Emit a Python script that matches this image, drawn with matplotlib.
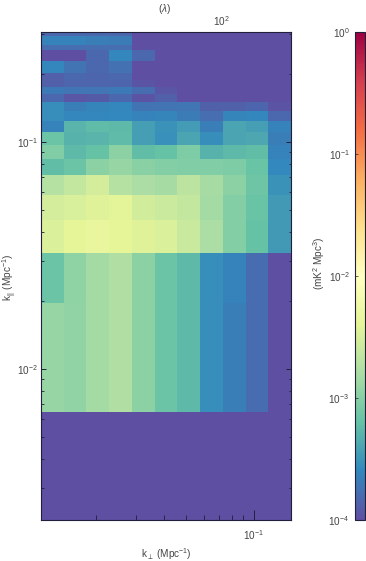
import numpy as np
import matplotlib
matplotlib.use("Agg")
import matplotlib.pyplot as plt
from matplotlib.colors import LogNorm
from matplotlib.ticker import FixedLocator, FixedFormatter, NullFormatter

plt.rcParams['font.family'] = ['Liberation Sans', 'DejaVu Sans']
plt.rcParams['mathtext.fontset'] = 'custom'
plt.rcParams['mathtext.rm'] = 'Liberation Sans'
plt.rcParams['mathtext.it'] = 'Liberation Sans:italic'
plt.rcParams['mathtext.bf'] = 'Liberation Sans:bold'
plt.rcParams['mathtext.sf'] = 'Liberation Sans'

# ---- data -------------------------------------------------------------
kperp_edges = [0.011429, 0.014407, 0.018163, 0.022896, 0.028864, 0.036388,
               0.045875, 0.057835, 0.072912, 0.091922, 0.11588, 0.14609]
kpar_edges = [0.0065, 0.0195, 0.0325, 0.0455, 0.0585, 0.0715, 0.0845, 0.0975,
              0.1105, 0.1235, 0.1365, 0.1495, 0.1625, 0.1755, 0.1885, 0.2015,
              0.2145, 0.2275, 0.2405, 0.2535, 0.2665, 0.2795, 0.2925, 0.3055]

L = 8e-5  # below colour range
power = [
    [1.2e-3, 1.15e-3, 1.45e-3, 1.74e-3, 1.05e-3, 6.9e-4, 5.5e-4, 2.75e-4, 2.2e-4, 1.6e-4, L],
    [6.9e-4, 1.1e-3, 1.45e-3, 1.74e-3, 1.05e-3, 6.9e-4, 5.5e-4, 2.8e-4, 2.3e-4, 1.6e-4, L],
    [3.3e-3, 4.0e-3, 4.4e-3, 4.0e-3, 3.6e-3, 3.3e-3, 2.5e-3, 1.6e-3, 9.5e-4, 6.3e-4, 3.3e-4],
    [3.0e-3, 3.2e-3, 3.6e-3, 3.8e-3, 2.9e-3, 2.6e-3, 2.3e-3, 1.45e-3, 9.5e-4, 6.6e-4, 3.3e-4],
    [1.9e-3, 2.3e-3, 3.0e-3, 1.9e-3, 1.6e-3, 1.5e-3, 2.1e-3, 1.5e-3, 1.05e-3, 7.2e-4, 3.0e-4],
    [6.0e-4, 6.9e-4, 1.05e-3, 1.2e-3, 1.0e-3, 9.5e-4, 9.1e-4, 9.1e-4, 8.7e-4, 6.6e-4, 2.6e-4],
    [9.1e-4, 5.5e-4, 6.3e-4, 1.05e-3, 6.0e-4, 6.3e-4, 8.7e-4, 5.0e-4, 5.5e-4, 6.0e-4, 2.3e-4],
    [6.9e-4, 5.0e-4, 5.2e-4, 5.8e-4, 3.6e-4, 2.9e-4, 4.0e-4, 2.75e-4, 4.0e-4, 4.2e-4, 2.2e-4],
    [2.3e-4, 5.2e-4, 5.8e-4, 5.5e-4, 3.6e-4, 3.0e-4, 3.5e-4, 2.2e-4, 4.0e-4, 3.6e-4, 2.3e-4],
    [2.75e-4, 2.5e-4, 2.5e-4, 2.6e-4, 2.3e-4, 2.4e-4, 2.1e-4, 1.66e-4, 2.4e-4, 2.5e-4, 1.5e-4],
    [2.75e-4, 2.2e-4, 2.4e-4, 2.5e-4, 1.8e-4, 1.8e-4, 1.9e-4, 1.38e-4, 1.38e-4, 1.45e-4, 1.1e-4],
    [1.5e-4, 1.15e-4, 1.2e-4, 1.5e-4, 1.1e-4, 1.3e-4, L, L, L, L, L],
    [2.0e-4, 1.9e-4, 1.9e-4, 2.0e-4, 1.6e-4, 1.15e-4, L, L, L, L, L],
    [1.3e-4, 1.45e-4, 1.45e-4, 1.45e-4, 1.1e-4, L, L, L, L, L, L],
    [1.3e-4, 1.5e-4, 1.45e-4, 1.5e-4, L, L, L, L, L, L, L],
    [2.5e-4, 1.8e-4, 1.5e-4, 1.74e-4, L, L, L, L, L, L, L],
    [2.5e-4, 1.8e-4, 1.5e-4, 1.74e-4, L, L, L, L, L, L, L],
    [L, L, 1.5e-4, 2.5e-4, 1.5e-4, L, L, L, L, L, L],
    [L, L, 1.5e-4, 2.5e-4, 1.5e-4, L, L, L, L, L, L],
    [1.66e-4, 1.66e-4, 1.66e-4, 1.66e-4, L, L, L, L, L, L, L],
    [2.3e-4, 2.3e-4, 2.2e-4, 2.1e-4, L, L, L, L, L, L, L],
    [2.3e-4, 2.3e-4, 2.2e-4, 2.1e-4, L, L, L, L, L, L, L],
    [1.5e-4, 1.5e-4, 1.5e-4, 1.5e-4, L, L, L, L, L, L, L],
]

cbar_ticks = [1e-4, 1e-3, 1e-2, 1e-1, 1e0]
lam_per_k = 1385.0
lam_major = [100]
lam_minor = [20, 30, 40, 50, 60, 70, 80, 90]

# ---- figure -----------------------------------------------------------
W, H = 366, 561
fig = plt.figure(figsize=(W / 100, H / 100), dpi=100)
txt = '#444444'
fs = 7.2
cmap = plt.get_cmap('Spectral_r')
norm = LogNorm(vmin=1e-4, vmax=1e0)

ax = fig.add_axes([41 / W, 1 - 520 / H, 250 / W, 488 / H])
ax.set_facecolor(cmap(0.0))
mesh = ax.pcolormesh(kperp_edges, kpar_edges, np.array(power), cmap=cmap,
                     norm=norm, shading='flat', edgecolors='face', linewidth=0.0)
ax.set_xscale('log')
ax.set_yscale('log')
ax.set_xlim(kperp_edges[0], kperp_edges[-1])
ax.set_ylim(0.002163, kpar_edges[-1])

for s in ax.spines.values():
    s.set_color('#20203a')
    s.set_linewidth(0.8)

ax.xaxis.set_minor_formatter(NullFormatter())
ax.yaxis.set_minor_formatter(NullFormatter())
ax.tick_params(axis='x', which='both', direction='in', top=False, bottom=True,
               colors='#20203a', labelcolor=txt, labelsize=fs)
ax.tick_params(axis='x', which='major', length=7, width=0.7, pad=6)
ax.tick_params(axis='x', which='minor', length=3.6, width=0.6)
ax.tick_params(axis='y', which='both', direction='in', left=True, right=True,
               colors='#20203a', labelcolor=txt, labelsize=fs)
ax.tick_params(axis='y', which='major', length=3.4, width=0.7, pad=2)
ax.tick_params(axis='y', which='minor', length=1.8, width=0.6)

sec = ax.secondary_xaxis('top', functions=(lambda k: k * lam_per_k,
                                           lambda l: l / lam_per_k))
sec.xaxis.set_major_locator(FixedLocator(lam_major))
sec.xaxis.set_major_formatter(FixedFormatter([r'$10^{2}$']))
sec.xaxis.set_minor_locator(FixedLocator(lam_minor))
sec.xaxis.set_minor_formatter(NullFormatter())
sec.tick_params(axis='x', which='both', direction='in', colors='#20203a',
                labelcolor=txt, labelsize=fs)
sec.tick_params(axis='x', which='major', length=6.5, width=0.7, pad=3)
sec.tick_params(axis='x', which='minor', length=3.6, width=0.6)
sec.spines['top'].set_visible(False)

fig.text(165 / W, 1 - 9.5 / H, r'($\lambda$)', ha='center', va='center',
         fontsize=fs, color=txt)
fig.text(166 / W, 1 - 554 / H, r'k$_{\perp}$ (Mpc$^{-1}$)', ha='center',
         va='center', fontsize=fs, color=txt)
fig.text(10 / W, 1 - 277 / H, r'k$_{||}$ (Mpc$^{-1}$)', ha='center',
         va='center', rotation=90, fontsize=fs, color=txt)

# ---- colourbar ---------------------------------------------------------
cax = fig.add_axes([355 / W, 1 - 520 / H, 10 / W, 488 / H])
cb = fig.colorbar(mesh, cax=cax, ticks=cbar_ticks)
cb.outline.set_edgecolor('#20203a')
cb.outline.set_linewidth(0.8)
cax.yaxis.set_ticks_position('left')
cax.yaxis.set_label_position('left')
cax.minorticks_off()
cax.tick_params(axis='y', which='major', direction='in', length=2, width=0.5,
                colors='#20203a', labelcolor=txt, labelsize=fs, pad=4)
fig.text(319 / W, 1 - 263 / H, r'(mK$^2$ Mpc$^3$)', ha='center', va='center',
         rotation=90, fontsize=fs, color=txt)

fig.savefig('out.png', dpi=100)
